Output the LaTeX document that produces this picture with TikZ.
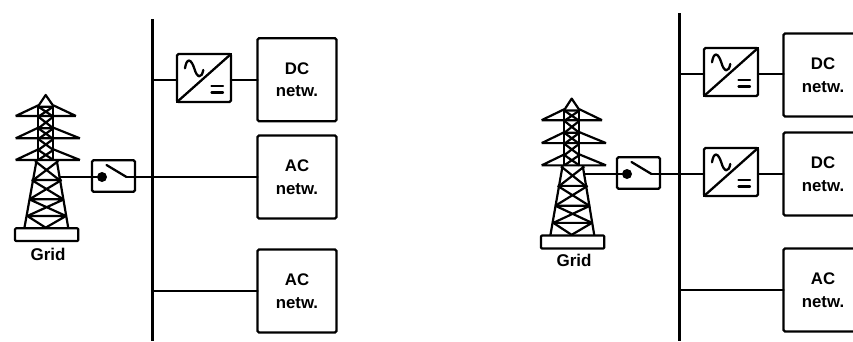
\documentclass[tikz,border=0pt]{standalone}
\usepackage{fontspec}
\setmainfont{Liberation Sans}
\newcommand{\mytower}[5]{% name, x shift, y shift, y scale, attach y
  \begin{scope}[shift={(#2,#3)},x=0.3333pt,y=-0.3333pt*#4,line join=round,towerline]
    % plate
    \draw[rounded corners=1pt] (45,445) rectangle (235,483);
    % legs
    \draw (110,240) -- (73,445) (170,240) -- (205,445);
    % lower bracing
    \draw (105,243) -- (178,300) (175,243) -- (100,300);
    \draw (95,300) -- (185,300) (95,300) -- (190,358) (185,300) -- (88,358);
    \draw (88,358) -- (192,358) (88,358) -- (198,408) (192,358) -- (82,408);
    \draw (82,408) -- (198,408) (82,408) -- (137,443) -- (198,408);
    % mast
    \draw (115,78) -- (115,240) (160,78) -- (160,240);
    \draw (115,80) -- (160,110) (160,80) -- (115,110) (115,110) -- (160,145) (160,110) -- (115,145);
    \draw (115,145) -- (160,177) (160,145) -- (115,177) (115,177) -- (160,210) (160,177) -- (115,210);
    \draw (115,210) -- (160,240) (160,210) -- (115,240) (115,80) -- (160,80) (115,145) -- (160,145);
    % apex and arms
    \draw (115,78) -- (137,45) -- (160,78);
    \draw (47,108) -- (228,108) (47,108) -- (115,76) (160,76) -- (228,108);
    \draw (47,175) -- (240,175) (47,175) -- (115,143) (160,143) -- (240,175);
    \draw (47,240) -- (240,240) (47,240) -- (115,208) (160,208) -- (240,240);
    \coordinate (#1) at (178,291);
  \end{scope}}
\newcommand{\myconv}[3]{% name, centre x, centre y
  \node[convbox] (#1) at (#2,#3) {};
  \coordinate (#1w) at ([yshift=-2pt]#1.west);
  \coordinate (#1e) at ([yshift=-2pt]#1.east);
  \draw[wire] (#1.south west) -- (#1.north east);
  \draw[wire] ([xshift=-19pt,yshift=9.7pt]#1.center)
     .. controls ([xshift=-17.5pt,yshift=20pt]#1.center) and ([xshift=-13pt,yshift=20pt]#1.center) ..
     ([xshift=-9.7pt,yshift=9.5pt]#1.center)
     .. controls ([xshift=-7pt,yshift=0pt]#1.center) and ([xshift=-2.5pt,yshift=-1pt]#1.center) ..
     ([xshift=-0.7pt,yshift=8pt]#1.center);
  \draw[wire] ([xshift=7.5pt,yshift=-8pt]#1.center) -- ([xshift=19pt,yshift=-8pt]#1.center)
     ([xshift=7.5pt,yshift=-14.5pt]#1.center) -- ([xshift=19pt,yshift=-14.5pt]#1.center);}
\newcommand{\myswitch}[3]{% name, centre x, centre y
  \node[switchbox] (#1) at (#2,#3) {};
  \node[dotmark] (#1dot) at ([xshift=-11.5pt,yshift=-1pt]#1.center) {};
  \coordinate (#1end) at ([xshift=13pt,yshift=-1pt]#1.center);
  \draw[wire] ([xshift=-20pt,yshift=12pt]#1end) -- (#1end);}
\tikzset{
  wire/.style={line width=2.3pt,black,line cap=round},
  towerline/.style={line width=2.2pt,black},
  busline/.style={line width=2.4pt,black},
  convbox/.style={draw,line width=2.3pt,rounded corners=1.5pt,minimum width=54pt,minimum height=48pt,inner sep=0pt,outer sep=0pt},
  switchbox/.style={draw,line width=2.3pt,rounded corners=1.5pt,minimum width=43pt,minimum height=31.5pt,inner sep=0pt,outer sep=0pt},
  netbox/.style={draw,line width=2.3pt,rounded corners=1.5pt,minimum width=79pt,minimum height=83pt,inner sep=0pt,outer sep=0pt,align=center,font=\fontsize{16.8}{22.5}\selectfont\bfseries},
  dotmark/.style={circle,fill=black,minimum size=10pt,inner sep=0pt,outer sep=0pt},
  gridlabel/.style={font=\fontsize{17}{20}\selectfont\bfseries,inner sep=0pt}
}
\begin{document}
\begin{tikzpicture}[x=1pt,y=-1pt]
\useasboundingbox (0,0) rectangle (853,341);
\clip (0,0) rectangle (853,341);
% left diagram
\coordinate (busLtop) at (152.5,19);
\coordinate (busLbot) at (152.5,341);
\draw[busline] (busLtop) -- (busLbot);
\mytower{towerL}{0}{80}{1}{177}
\node[gridlabel] (gridL) at (48,254) {Grid};
\myswitch{swL}{113.5}{176}
\myconv{convL}{204}{78}
\node[netbox] (dcL) at (297,79.7) {DC\\netw.};
\node[netbox] (acL) at (297,177) {AC\\netw.};
\node[netbox] (acLb) at (297,291) {AC\\netw.};
\draw[wire] (towerL |- swLdot) -- (swLdot);
\draw[wire] (swLend) -- (swLdot -| busLtop);
\draw[wire] (swLdot -| busLtop) -- (swLdot -| acL.west);
\draw[wire] (convLw -| busLtop) -- (convLw);
\draw[wire] (convLe) -- (convLe -| dcL.west);
\draw[wire] (acLb.west -| busLtop) -- (acLb.west);
% right diagram
\coordinate (busRtop) at (679.5,13);
\coordinate (busRbot) at (679.5,341);
\draw[busline] (busRtop) -- (busRbot);
\mytower{towerR}{526}{83.2}{1.027}{174}
\node[gridlabel] (gridR) at (574,260) {Grid};
\myswitch{swR}{638.5}{173}
\myconv{convA}{731}{72}
\myconv{convB}{731}{172}
\node[netbox] (dcA) at (823,75) {DC\\netw.};
\node[netbox] (dcB) at (823,174) {DC\\netw.};
\node[netbox] (acR) at (823,290) {AC\\netw.};
\draw[wire] (towerR |- swRdot) -- (swRdot);
\draw[wire] (swRend) -- (swRdot -| convB.west);
\draw[wire] (convAw -| busRtop) -- (convAw);
\draw[wire] (convAe) -- (convAe -| dcA.west);
\draw[wire] (convBe) -- (convBe -| dcB.west);
\draw[wire] (acR.west -| busRtop) -- (acR.west);
\end{tikzpicture}
\end{document}
